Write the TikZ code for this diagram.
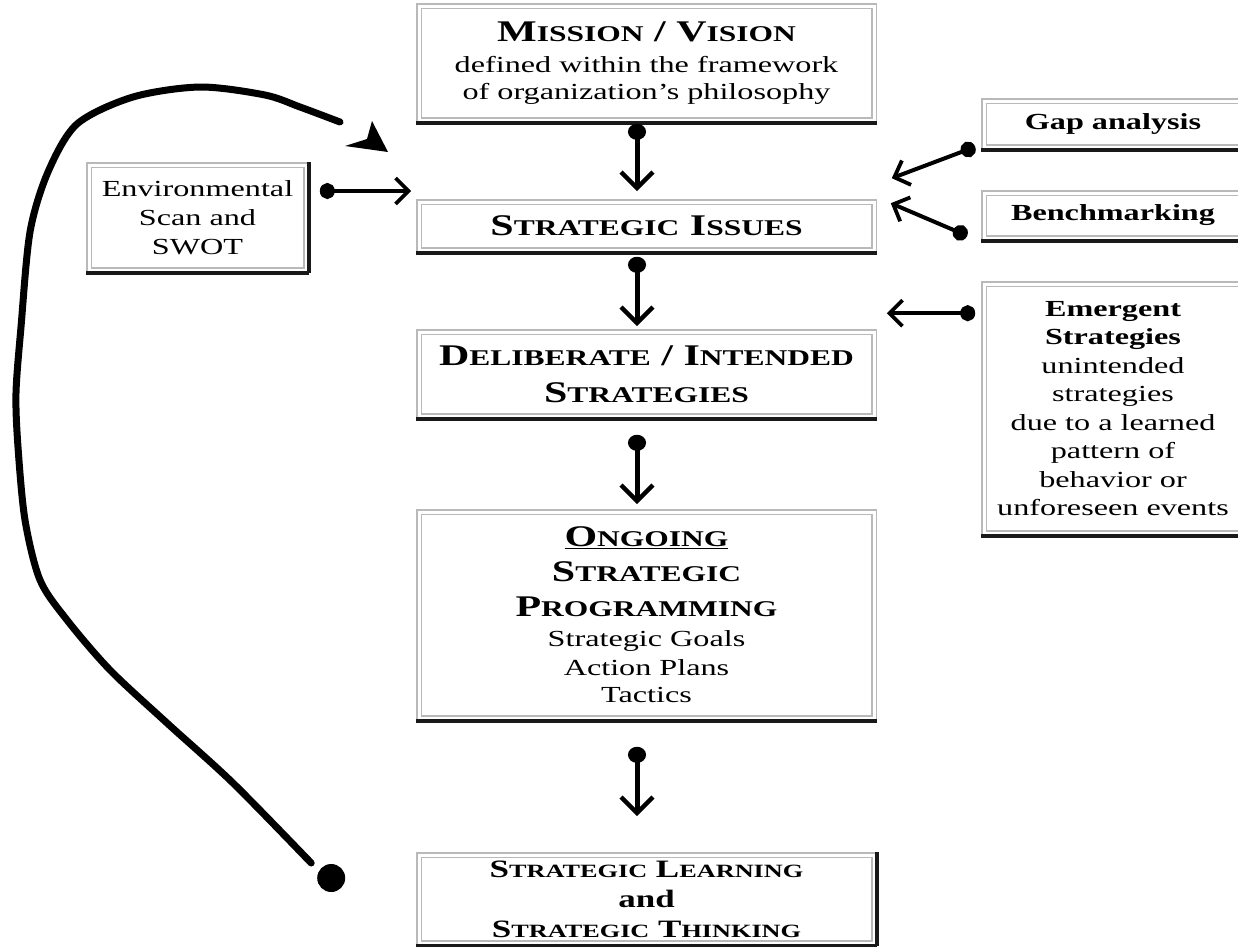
\documentclass[tikz,border=0pt]{standalone}
\usepackage{fontspec}
\setmainfont{Liberation Serif}[FakeStretch=1.4]
\usetikzlibrary{arrows.meta}
\newcommand\sca[1]{{\fontsize{22.5}{22.5}\selectfont #1}}
\newcommand\scb[1]{{\fontsize{18.75}{18.75}\selectfont #1}}
\newcommand\mybigfont{\fontsize{30}{30}\selectfont\bfseries}
\newcommand\mytextfont{\fontsize{23}{27}\selectfont\mdseries}
\tikzset{
  box/.style={draw=gray!55, line width=1.6pt, double=white, double distance=3pt,
    fill=white, inner sep=0pt, align=center, font=\fontsize{23}{27}\selectfont},
  title/.style={font=\fontsize{30}{37}\selectfont\bfseries},
  shade/.style={line width=4pt, black!90, line cap=rect},
  conn/.style={line width=5pt, {Circle[length=16pt,width=18pt]}-{Straight Barb[length=16pt,width=32pt,line width=4.5pt]}},
  sconn/.style={line width=4pt, {Circle[length=15pt,width=16pt]}-{Straight Barb[length=13pt,width=26pt,line width=3.8pt]}},
  loopline/.style={line width=7pt, line cap=round, line join=round},
}
\begin{document}
\begin{tikzpicture}[x=1pt,y=-1pt]
\fill[white] (0,0) rectangle (1238,946);
\useasboundingbox (0,0) rectangle (1238,946);

% central boxes
\node[box, minimum width=455pt, minimum height=114pt] (mission) at (646.5,63)
  {\mybigfont M\sca{ISSION} / V\sca{ISION}\\[4pt]
   \mytextfont defined within the framework\\ \mytextfont of organization's philosophy};
\node[box, title, minimum width=455pt, minimum height=48pt] (issues) at (646.5,226)
  {S\sca{TRATEGIC} I\sca{SSUES}};
\node[box, title, minimum width=455pt, minimum height=84pt] (delib) at (646.5,374)
  {D\sca{ELIBERATE} / I\sca{NTENDED}\\ S\sca{TRATEGIES}};
\node[box, minimum width=455pt, minimum height=206pt] (ongoing) at (646.5,615)
  {\mybigfont \underline{O\sca{NGOING}}\\[8pt]
   \mybigfont S\sca{TRATEGIC}\\[8pt]
   \mybigfont P\sca{ROGRAMMING}\\[3pt]
   \mytextfont Strategic Goals\\[2pt] \mytextfont Action Plans\\ \mytextfont Tactics};
\node[box, minimum width=455pt, minimum height=88pt, font=\fontsize{25}{30}\selectfont\bfseries] (learn) at (646.5,899)
  {S\scb{TRATEGIC} L\scb{EARNING}\\ and\\ S\scb{TRATEGIC} T\scb{HINKING}};

% side boxes
\node[box, minimum width=217pt, minimum height=105pt, font=\fontsize{23}{29}\selectfont] (env) at (197.5,217.5)
  {Environmental\\ Scan and\\ SWOT};
\node[box, minimum width=258pt, minimum height=46pt, font=\fontsize{23}{27}\selectfont\bfseries] (gap) at (1113,124)
  {Gap analysis};
\node[box, minimum width=258pt, minimum height=45pt, font=\fontsize{23}{27}\selectfont\bfseries] (bench) at (1113,215.5)
  {Benchmarking};
\node[box, minimum width=258pt, minimum height=249pt, font=\fontsize{23}{28.5}\selectfont] (emerg) at (1113,408.5)
  {\textbf{Emergent}\\ \textbf{Strategies}\\ unintended\\ strategies\\ due to a learned\\ pattern of\\ behavior or\\ unforeseen events};

% dark edges
\foreach \n in {mission,issues,delib,ongoing,learn,gap,bench,emerg,env}
  \draw[shade] ([yshift=-2pt]\n.south west) -- ([yshift=-2pt]\n.south east);
\draw[shade] ([xshift=2pt]env.south east) -- ([xshift=2pt]env.north east);
\draw[shade] ([xshift=2pt]learn.south east) -- ([xshift=2pt]learn.north east);

% vertical connectors
\draw[conn] ([xshift=-9.5pt,yshift=-3pt]mission.south) -- ([xshift=-9.5pt,yshift=10pt]issues.north);
\draw[conn] ([xshift=-9.5pt,yshift=-6pt]issues.south) -- ([xshift=-9.5pt,yshift=5pt]delib.north);
\draw[conn] ([xshift=-9.5pt,yshift=-18pt]delib.south) -- ([xshift=-9.5pt,yshift=7pt]ongoing.north);
\draw[conn] ([xshift=-9.5pt,yshift=-28pt]ongoing.south) -- ([xshift=-9.5pt,yshift=38pt]learn.north);

% side connectors
\draw[sconn] ([xshift=13pt,yshift=26.5pt]env.east) -- ([xshift=-7pt,yshift=35pt]issues.west);
\draw[sconn] ([xshift=-8pt,yshift=1pt]gap.south west) -- ([xshift=17pt,yshift=23pt]issues.north east);
\draw[sconn] ([xshift=-16pt,yshift=3pt]bench.south west) -- ([xshift=16pt,yshift=-2pt]issues.north east);
\draw[sconn] ([xshift=-8pt,yshift=-30pt]emerg.north west) -- ([xshift=12pt,yshift=18pt]delib.north east);

% feedback loop
\coordinate (ldot) at ([xshift=-87pt,yshift=21pt]learn.west);
\coordinate (lstart) at ([xshift=-107pt,yshift=36pt]learn.west);
\coordinate (lend) at (340,122);
\fill (ldot) circle (14pt);
\draw[loopline] plot[smooth, tension=0.5] coordinates {
  (lstart) (233,783) (167,723) (110,670) (67,620) (40,580) (25,520) (18,447)
  (16,393) (21,327) (30,232) (48,172) (77,124) (133,97) (200,87) (265,95) (300,107) (lend)};
\fill (372,121) -- (388,152) -- (345,146) -- (367,139) -- cycle;
\end{tikzpicture}
\end{document}
